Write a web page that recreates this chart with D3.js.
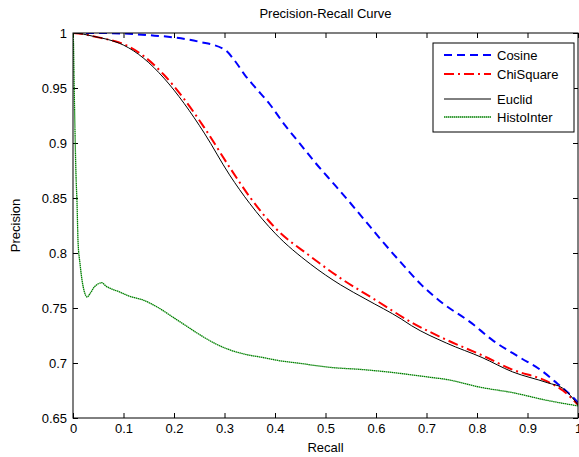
<!DOCTYPE html>
<html>
<head>
<meta charset="utf-8">
<script src="https://d3js.org/d3.v7.min.js"></script>
<style>
  body { margin: 0; background: #fff; }
  text { font-family: "Liberation Sans", Arial, sans-serif; }
</style>
</head>
<body>
<svg width="579" height="457"></svg>
<script>
// values
var xTicks = [0, 0.1, 0.2, 0.3, 0.4, 0.5, 0.6, 0.7, 0.8, 0.9, 1];
var yTicks = [0.65, 0.7, 0.75, 0.8, 0.85, 0.9, 0.95, 1];

var cosineRecall = [0, 0.05, 0.1, 0.15, 0.2, 0.25, 0.3, 0.32, 0.34, 0.36, 0.39, 0.42, 0.45, 0.48, 0.52, 0.55, 0.59, 0.61, 0.65, 0.69, 0.73, 0.79, 0.83, 0.885, 0.925, 0.96, 0.985, 1.0];
var cosinePrec   = [1, 1, 0.9995, 0.998, 0.996, 0.992, 0.985, 0.975, 0.962, 0.951, 0.935, 0.916, 0.899, 0.882, 0.861, 0.845, 0.823, 0.812, 0.791, 0.771, 0.755, 0.736, 0.721, 0.705, 0.694, 0.681, 0.671, 0.664];

var chiRecall = [0, 0.02, 0.04, 0.07, 0.1, 0.14, 0.18, 0.22, 0.26, 0.31, 0.35, 0.4, 0.47, 0.53, 0.6, 0.67, 0.74, 0.81, 0.87, 0.94, 0.97, 1.0];
var chiPrec   = [1, 0.999, 0.997, 0.994, 0.99, 0.979, 0.962, 0.94, 0.914, 0.878, 0.851, 0.823, 0.797, 0.777, 0.757, 0.737, 0.721, 0.707, 0.694, 0.683, 0.675, 0.662];

var eucRecall = [0, 0.02, 0.04, 0.07, 0.1, 0.14, 0.18, 0.22, 0.26, 0.31, 0.35, 0.4, 0.47, 0.53, 0.58, 0.65, 0.67, 0.74, 0.81, 0.87, 0.94, 0.97, 1.0];
var eucPrec   = [1, 0.999, 0.997, 0.994, 0.989, 0.977, 0.959, 0.936, 0.909, 0.871, 0.845, 0.818, 0.79, 0.771, 0.758, 0.74, 0.734, 0.718, 0.705, 0.692, 0.682, 0.677, 0.662];

var histRecall = [0, 0.001, 0.002, 0.004, 0.006, 0.008, 0.01, 0.014, 0.018, 0.023, 0.028, 0.035, 0.042, 0.05, 0.057, 0.065, 0.073, 0.09, 0.11, 0.14, 0.17, 0.2, 0.22, 0.25, 0.28, 0.31, 0.34, 0.376, 0.41, 0.444, 0.51, 0.574, 0.64, 0.707, 0.74, 0.806, 0.871, 0.939, 1.0];
var histPrec   = [1, 0.99, 0.96, 0.91, 0.87, 0.845, 0.81, 0.79, 0.775, 0.764, 0.76, 0.764, 0.769, 0.772, 0.773, 0.77, 0.768, 0.765, 0.761, 0.757, 0.75, 0.741, 0.735, 0.726, 0.718, 0.712, 0.708, 0.705, 0.702, 0.7, 0.696, 0.694, 0.691, 0.687, 0.685, 0.678, 0.673, 0.666, 0.661];

var seriesNames = ["Cosine", "ChiSquare", "Euclid", "HistoInter"];

var series = [
  {name: seriesNames[0], r: cosineRecall, p: cosinePrec, color: "#0000ff", width: 2, dash: "8,5"},
  {name: seriesNames[1], r: chiRecall, p: chiPrec, color: "#ff0000", width: 2, dash: "10,4,2,4"},
  {name: seriesNames[2], r: eucRecall, p: eucPrec, color: "#000000", width: 1, dash: null},
  {name: seriesNames[3], r: histRecall, p: histPrec, color: "#008000", width: 1.3, dash: "1.5,0.5"}
];

var svg = d3.select("svg");
var mLeft = 73, mRight = 578, mTop = 33, mBottom = 418;

var x = d3.scaleLinear().domain([0, 1]).range([mLeft, mRight]);
var y = d3.scaleLinear().domain([0.65, 1]).range([mBottom, mTop]);
var fmt = function (d) { return String(+d.toFixed(2)); };

// clip lines to the axes box
svg.append("clipPath").attr("id", "clip")
  .append("rect").attr("x", mLeft).attr("y", mTop).attr("width", mRight - mLeft).attr("height", mBottom - mTop);

// axes (MATLAB style, ticks pointing in)
svg.append("g").attr("transform", "translate(0," + mBottom + ")")
  .call(d3.axisBottom(x).tickValues(xTicks).tickFormat(fmt).tickSizeInner(-5).tickSizeOuter(0).tickPadding(6))
  .call(function (g) { g.select(".domain").remove(); });
svg.append("g").attr("transform", "translate(0," + mTop + ")")
  .call(d3.axisTop(x).tickValues(xTicks).tickFormat("").tickSizeInner(-5).tickSizeOuter(0))
  .call(function (g) { g.select(".domain").remove(); });
svg.append("g").attr("transform", "translate(" + mLeft + ",0)")
  .call(d3.axisLeft(y).tickValues(yTicks).tickFormat(fmt).tickSizeInner(-5).tickSizeOuter(0).tickPadding(6))
  .call(function (g) { g.select(".domain").remove(); });
svg.append("g").attr("transform", "translate(" + mRight + ",0)")
  .call(d3.axisRight(y).tickValues(yTicks).tickFormat("").tickSizeInner(-5).tickSizeOuter(0))
  .call(function (g) { g.select(".domain").remove(); });

svg.selectAll(".tick text").attr("font-size", 13).attr("fill", "#000")
  .attr("font-family", "'Liberation Sans', Arial, sans-serif");
svg.selectAll(".tick line").attr("stroke", "#000");

// lines
var line = d3.line()
  .x(function (d) { return x(d[0]); })
  .y(function (d) { return y(d[1]); })
  .curve(d3.curveMonotoneX);

var plot = svg.append("g").attr("clip-path", "url(#clip)");
series.forEach(function (s) {
  var pts = s.r.map(function (v, i) { return [v, s.p[i]]; });
  plot.append("path")
    .attr("d", line(pts))
    .attr("fill", "none")
    .attr("stroke", s.color)
    .attr("stroke-width", s.width)
    .attr("stroke-dasharray", s.dash);
});

// axes box
svg.append("rect")
  .attr("x", mLeft).attr("y", mTop)
  .attr("width", mRight - mLeft).attr("height", mBottom - mTop)
  .attr("fill", "none").attr("stroke", "#000").attr("stroke-width", 1);

// titles
svg.append("text").attr("x", (mLeft + mRight) / 2).attr("y", 18)
  .attr("text-anchor", "middle").attr("font-size", 13).text("Precision-Recall Curve");
svg.append("text").attr("x", (mLeft + mRight) / 2).attr("y", 452)
  .attr("text-anchor", "middle").attr("font-size", 13).text("Recall");
svg.append("text").attr("transform", "translate(20," + (mTop + mBottom) / 2 + ") rotate(-90)")
  .attr("text-anchor", "middle").attr("font-size", 13).text("Precision");

// legend
var legend = svg.append("g");
legend.append("rect").attr("x", 433).attr("y", 43).attr("width", 141).attr("height", 89)
  .attr("fill", "#fff").attr("stroke", "#000").attr("stroke-width", 1);
var legY = [55, 74, 99, 117];
series.forEach(function (s, i) {
  legend.append("line")
    .attr("x1", 444).attr("x2", 491).attr("y1", legY[i]).attr("y2", legY[i])
    .attr("stroke", s.color).attr("stroke-width", s.width).attr("stroke-dasharray", s.dash);
  legend.append("text").attr("x", 497).attr("y", legY[i] + 5)
    .attr("font-size", 13).text(s.name);
});
</script>
</body>
</html>
